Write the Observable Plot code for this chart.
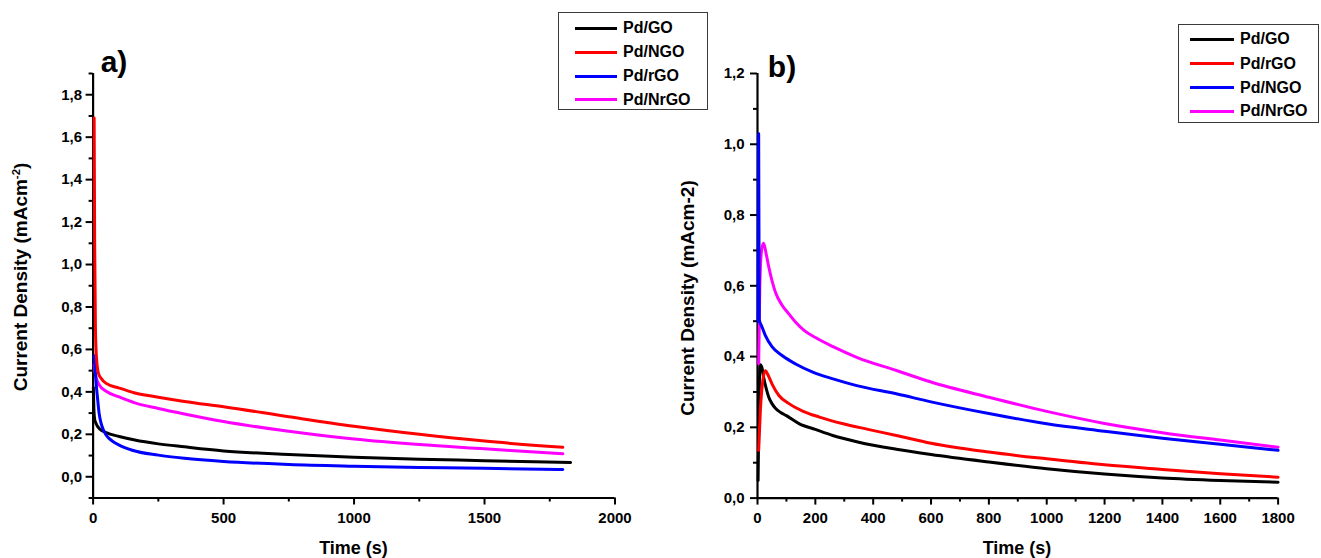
<!DOCTYPE html>
<html><head><meta charset="utf-8">
<script src="https://cdn.jsdelivr.net/npm/d3@7"></script>
<script src="https://cdn.jsdelivr.net/npm/@observablehq/plot@0.6"></script>
<style>
body{margin:0;background:#fff;}
#root{position:relative;width:1321px;height:558px;overflow:hidden;background:#fff;font-family:"Liberation Sans",Arial,sans-serif;font-weight:bold;color:#000;}
.pl{position:absolute;top:0;}
.ttl{position:absolute;white-space:nowrap;transform:translate(-50%,-50%);line-height:1;}
.legend{position:absolute;border:1px solid #3a3a3a;box-sizing:border-box;}
.row{position:absolute;height:20px;display:flex;align-items:center;white-space:nowrap;font-size:16px;}
.sw{display:inline-block;height:3px;}
sup{font-size:0.6em;vertical-align:0.6em;line-height:0;}
</style></head><body><div id="root"></div>
<script>
// ---------- Panel a) data ----------
const tA_GO   = [1, 3, 6, 10, 25, 50, 100, 160, 250, 350, 500, 750, 1000, 1250, 1500, 1830];
const vA_GO   = [0.42, 0.32, 0.27, 0.255, 0.225, 0.208, 0.19, 0.173, 0.155, 0.141, 0.122, 0.105, 0.092, 0.083, 0.076, 0.067];
const tA_NGO  = [4, 6, 9, 13, 20, 30, 50, 100, 160, 250, 350, 500, 750, 1000, 1250, 1500, 1800];
const vA_NGO  = [1.69, 1.1, 0.7, 0.56, 0.49, 0.465, 0.44, 0.418, 0.395, 0.375, 0.355, 0.33, 0.283, 0.238, 0.2, 0.168, 0.139];
const tA_rGO  = [4, 8, 13, 17, 23, 30, 38, 48, 60, 80, 100, 150, 250, 350, 500, 750, 1000, 1250, 1500, 1800];
const vA_rGO  = [0.57, 0.5, 0.42, 0.37, 0.3, 0.255, 0.225, 0.2, 0.182, 0.163, 0.149, 0.125, 0.102, 0.087, 0.072, 0.058, 0.05, 0.044, 0.04, 0.034];
const tA_NrGO = [4, 8, 15, 25, 50, 100, 160, 250, 350, 500, 750, 1000, 1250, 1500, 1800];
const vA_NrGO = [0.53, 0.49, 0.455, 0.43, 0.403, 0.376, 0.348, 0.322, 0.296, 0.26, 0.215, 0.178, 0.152, 0.132, 0.108];
const legendA = ["Pd/GO", "Pd/NGO", "Pd/rGO", "Pd/NrGO"];
const colorsA = ["#000000", "#ff0000", "#0000ff", "#ff00ff"];
const xMajorA = [0, 500, 1000, 1500, 2000];
const xMinorA = [250, 750, 1250, 1750];
const yMajorA = [0, 0.2, 0.4, 0.6, 0.8, 1.0, 1.2, 1.4, 1.6, 1.8];
const yMinorA = [-0.1, 0.1, 0.3, 0.5, 0.7, 0.9, 1.1, 1.3, 1.5, 1.7, 1.9];

// ---------- Panel b) data ----------
const tB_GO   = [2, 5, 9, 15, 21, 30, 39, 50, 62, 80, 100, 145, 200, 260, 350, 480, 600, 800, 1000, 1200, 1400, 1600, 1800];
const vB_GO   = [0.05, 0.25, 0.377, 0.37, 0.342, 0.31, 0.285, 0.267, 0.254, 0.242, 0.233, 0.21, 0.194, 0.177, 0.158, 0.138, 0.123, 0.102, 0.083, 0.068, 0.057, 0.05, 0.045];
const tB_rGO  = [4, 10, 18, 27, 38, 50, 74, 109, 156, 214, 296, 378, 480, 600, 800, 1000, 1200, 1400, 1600, 1800];
const vB_rGO  = [0.135, 0.25, 0.33, 0.36, 0.345, 0.323, 0.29, 0.267, 0.246, 0.229, 0.21, 0.195, 0.177, 0.155, 0.13, 0.111, 0.094, 0.081, 0.069, 0.059];
const tB_NGO  = [2, 4, 6, 15, 27, 50, 85, 132, 191, 261, 343, 483, 600, 800, 1000, 1200, 1400, 1600, 1800];
const vB_NGO  = [0.5, 1.03, 0.505, 0.485, 0.46, 0.428, 0.403, 0.379, 0.356, 0.337, 0.318, 0.294, 0.272, 0.239, 0.21, 0.189, 0.169, 0.152, 0.135];
const tB_NrGO = [4, 8, 14, 21, 30, 39, 62, 85, 109, 132, 161, 202, 261, 343, 483, 600, 800, 1000, 1200, 1400, 1600, 1800];
const vB_NrGO = [0.38, 0.6, 0.7, 0.72, 0.69, 0.653, 0.582, 0.545, 0.52, 0.497, 0.474, 0.453, 0.428, 0.398, 0.36, 0.328, 0.285, 0.245, 0.211, 0.185, 0.164, 0.144];
const legendB = ["Pd/GO", "Pd/rGO", "Pd/NGO", "Pd/NrGO"];
const colorsB = ["#000000", "#ff0000", "#0000ff", "#ff00ff"];
const xMajorB = [0, 200, 400, 600, 800, 1000, 1200, 1400, 1600, 1800];
const xMinorB = [100, 300, 500, 700, 900, 1100, 1300, 1500, 1700];
const yMajorB = [0, 0.2, 0.4, 0.6, 0.8, 1.0, 1.2];
const yMinorB = [0.1, 0.3, 0.5, 0.7, 0.9, 1.1];

const root = document.getElementById("root");
const comma = d => d.toFixed(1).replace(".", ",");

function panel(o) {
  const svg = Plot.plot({
    width: o.width, height: 558,
    marginLeft: o.ml, marginRight: o.mr, marginTop: 73, marginBottom: o.mb,
    x: {domain: o.xd},
    y: {domain: o.yd},
    style: {fontFamily: '"Liberation Sans", Arial, sans-serif', fontWeight: "bold", fontSize: "15px", color: "#000", background: "transparent", overflow: "visible"},
    marks: [
      Plot.axisX({ticks: o.xMinor, tickSize: 4, strokeWidth: 2, tickFormat: () => "", label: null}),
      Plot.axisX({ticks: o.xMajor, tickSize: 7, tickPadding: 7, strokeWidth: 2, tickFormat: d => String(d), label: null}),
      Plot.axisY({ticks: o.yMinor, tickSize: 4, strokeWidth: 2, tickFormat: () => "", label: null}),
      Plot.axisY({ticks: o.yMajor, tickSize: 7, tickPadding: o.ypad, strokeWidth: 2, tickFormat: comma, label: null}),
      Plot.ruleY([o.yd[0]], {strokeWidth: 2.2}),
      Plot.ruleX([o.xd[0]], {strokeWidth: 2.2}),
      ...o.series.map(s => Plot.line(s.v, {x: s.t, y: s.v, stroke: s.c, strokeWidth: 3, curve: "monotone-x"}))
    ]
  });
  const wrap = document.createElement("div");
  wrap.className = "pl";
  wrap.style.left = o.left + "px";
  wrap.appendChild(svg);
  root.appendChild(wrap);
}

panel({
  left: 0, width: 660, ml: 92.6, mr: 45.5, mb: 60.5, ypad: 4,
  xd: [0, 2000], yd: [-0.1, 1.9],
  xMajor: xMajorA, xMinor: xMinorA, yMajor: yMajorA, yMinor: yMinorA,
  series: [
    {t: tA_GO, v: vA_GO, c: colorsA[0]},
    {t: tA_NrGO, v: vA_NrGO, c: colorsA[3]},
    {t: tA_rGO, v: vA_rGO, c: colorsA[2]},
    {t: tA_NGO, v: vA_NGO, c: colorsA[1]}
  ]
});
panel({
  left: 660, width: 661, ml: 97, mr: 43.4, mb: 60.4, ypad: 6,
  xd: [0, 1800], yd: [0, 1.2],
  xMajor: xMajorB, xMinor: xMinorB, yMajor: yMajorB, yMinor: yMinorB,
  series: [
    {t: tB_GO, v: vB_GO, c: colorsB[0]},
    {t: tB_rGO, v: vB_rGO, c: colorsB[1]},
    {t: tB_NrGO, v: vB_NrGO, c: colorsB[3]},
    {t: tB_NGO, v: vB_NGO, c: colorsB[2]}
  ]
});

function text(html, x, y, size, rot) {
  const d = document.createElement("div");
  d.className = "ttl";
  d.style.left = x + "px"; d.style.top = y + "px";
  d.style.fontSize = size + "px";
  if (rot) d.style.transform = "translate(-50%,-50%) rotate(-90deg)";
  d.innerHTML = html;
  root.appendChild(d);
}
text("a)", 114, 62, 30);
text("b)", 782, 67, 30);
text("Current Density (mAcm<sup>-2</sup>)", 20, 277, 19, true);
text("Current Density (mAcm-2)", 687, 298, 19, true);
text("Time (s)", 353.5, 548, 18);
text("Time (s)", 1017, 548, 18);

function legend(box, rows, lx, tx, labels, colors) {
  const b = document.createElement("div");
  b.className = "legend";
  Object.assign(b.style, {left: box[0] + "px", top: box[1] + "px", width: (box[2] - box[0]) + "px", height: (box[3] - box[1]) + "px"});
  root.appendChild(b);
  labels.forEach((lab, i) => {
    const r = document.createElement("div");
    r.className = "row";
    r.style.left = lx[0] + "px";
    r.style.top = (rows[i] - 10) + "px";
    const sw = document.createElement("span");
    sw.className = "sw";
    sw.style.width = (lx[1] - lx[0]) + "px";
    sw.style.background = colors[i];
    sw.style.marginRight = (tx - lx[1]) + "px";
    r.appendChild(sw);
    r.appendChild(document.createTextNode(lab));
    root.appendChild(r);
  });
}
legend([558, 12, 708, 110], [28, 52, 76, 99.5], [574.5, 616.5], 623, legendA, colorsA);
legend([1178, 24, 1319, 123], [39, 63.5, 87.5, 111], [1190, 1233.5], 1240, legendB, colorsB);
</script>
</body></html>
